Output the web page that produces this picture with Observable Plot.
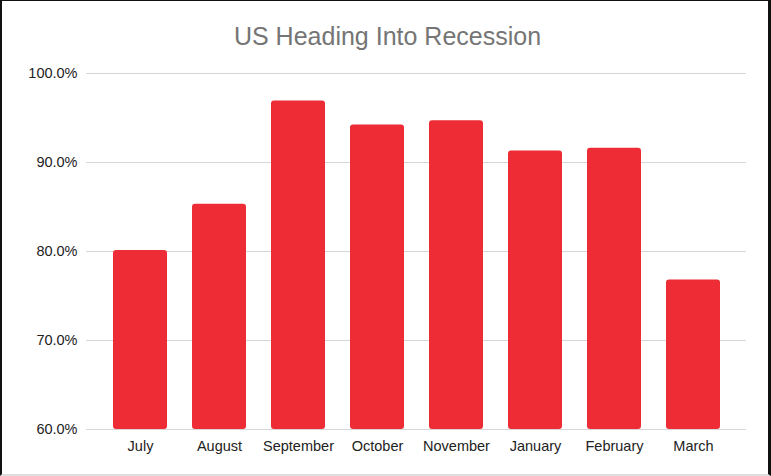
<!DOCTYPE html>
<html>
<head>
<meta charset="utf-8">
<script src="https://cdn.jsdelivr.net/npm/d3@7"></script>
<script src="https://cdn.jsdelivr.net/npm/@observablehq/plot@0.6"></script>
<style>
  html, body { margin: 0; padding: 0; background: #fff; }
  #wrap { position: relative; width: 771px; height: 476px; overflow: hidden; background: #fff;
          font-family: "Liberation Sans", Arial, Helvetica, sans-serif; }
  #title { height: 55px; box-sizing: border-box; padding-top: 24px; padding-left: 4px;
           font-size: 25px; line-height: 25px; color: #757575; text-align: center; }
  #border { position: absolute; left: 0; top: 0; width: 771px; height: 476px; box-sizing: border-box;
            border-left: 2px solid #111; border-right: 3px solid #111; border-top: 1px solid #111;
            border-bottom: 2px solid #dedede; pointer-events: none; }
  svg { display: block; }
</style>
</head>
<body>
<div id="wrap">
  <div id="title">US Heading Into Recession</div>
  <div id="chart"></div>
  <div id="border"></div>
</div>
<script>
const months = ["July", "August", "September", "October", "November", "January", "February", "March"];
const values = [80.1, 85.3, 96.9, 94.2, 94.7, 91.3, 91.6, 76.8];
const yTicks = [60, 70, 80, 90, 100];

const data = months.map((m, i) => ({month: m, value: values[i]}));
const base = yTicks[0];

const chart = Plot.plot({
  width: 771,
  height: 421,
  marginTop: 18,
  marginBottom: 47,
  marginLeft: 86,
  marginRight: 25,
  style: {fontFamily: "'Liberation Sans', Arial, sans-serif", fontSize: "14.5px", color: "#222", background: "#fff"},
  x: {domain: months, padding: 0.32, label: null, tickSize: 0, tickPadding: 11},
  y: {domain: [yTicks[0], yTicks[yTicks.length - 1]], ticks: yTicks, tickSize: 0, tickPadding: 9,
      tickFormat: d => d.toFixed(1) + "%", label: null},
  marks: [
    Plot.ruleY(yTicks, {stroke: "#d6d6d6", strokeWidth: 1}),
    Plot.barY(data, {x: "month", y1: base, y2: "value", fill: "#ee2c35", rx: 3})
  ]
});
document.getElementById("chart").appendChild(chart);
</script>
</body>
</html>
